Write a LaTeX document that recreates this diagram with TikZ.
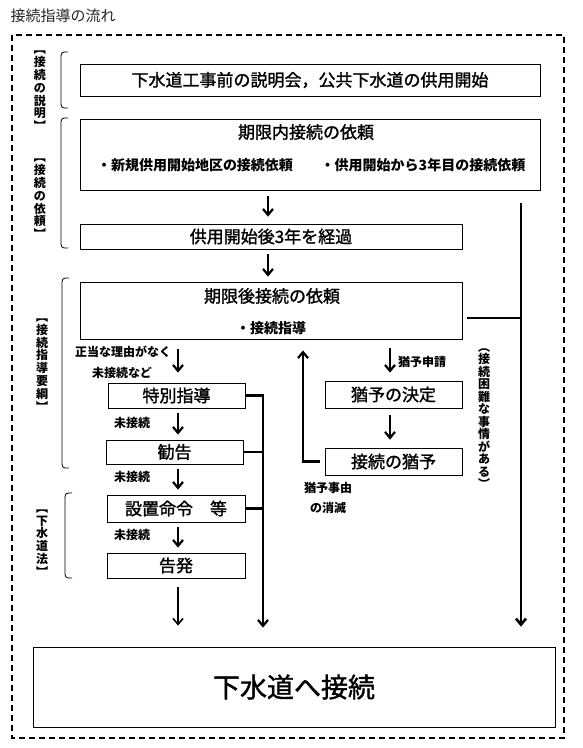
\documentclass[tikz,border=0pt]{standalone}
\usepackage{fontspec}
\setmainfont{Noto Sans CJK JP}
\newfontfamily\jpmed[FakeBold=1.4]{Noto Sans CJK JP}
\usetikzlibrary{arrows.meta}
\tikzset{
  box/.style={draw, line width=0.8pt, inner sep=0pt},
  big/.style={font=\fontsize{17}{17}\selectfont\jpmed},
  arr/.style={-{Straight Barb[length=6pt,width=10pt]}, line width=2.2pt},
  bar/.style={line width=2.6pt},
  lbl/.style={font=\fontsize{12}{12}\selectfont\bfseries, inner sep=0pt},
  vlbl/.style={font=\fontsize{12}{12.8}\selectfont\bfseries, align=center, inner sep=0pt},
  brace/.style={line width=0.8pt},
  frame/.style={dash pattern=on 6pt off 4pt, line width=1.6pt}
}
\begin{document}
\begin{tikzpicture}[x=1pt,y=-1pt]
\useasboundingbox (0,0) rectangle (583,748);
\node[anchor=west, font=\fontsize{15}{15}\selectfont, text=black!85] (title) at (7,15.5) {接続指導の流れ};
\draw[frame] (12,35) rectangle (564,738);
% boxes
\node[box, big, minimum width=460pt, minimum height=32pt] (top) at (310,80) {下水道工事前の説明会，公共下水道の供用開始};
\node[box, minimum width=460pt, minimum height=71pt] (inreq) at (310,154.5) {};
\node[big] (inreqt) at (306,132) {期限内接続の依頼};
\node[font=\fontsize{14}{14}\selectfont\bfseries] (inreqa) at (195,165) {・新規供用開始地区の接続依頼};
\node[font=\fontsize{14}{14}\selectfont\bfseries] (inreqb) at (423,165) {・供用開始から3年目の接続依頼};
\node[box, big, minimum width=382pt, minimum height=25pt] (after3) at (271,236.5) {供用開始後3年を経過};
\node[box, minimum width=382pt, minimum height=57pt] (postreq) at (271,310.5) {};
\node[big] (postreqt) at (272,296) {期限後接続の依頼};
\node[font=\fontsize{14}{14}\selectfont\bfseries] (postreqa) at (271,328) {・接続指導};
\node[box, big, minimum width=137pt, minimum height=25pt] (special) at (176.5,395.5) {特別指導};
\node[box, big, minimum width=137pt, minimum height=24pt] (advice) at (174.5,452) {勧告};
\node[box, big, minimum width=138pt, minimum height=27pt] (order) at (176,508.5) {設置命令\quad 等};
\node[box, big, minimum width=138pt, minimum height=25pt] (accuse) at (176,565.5) {告発};
\node[box, big, minimum width=137pt, minimum height=27pt] (decide) at (393.5,394.5) {猶予の決定};
\node[box, big, minimum width=137pt, minimum height=27pt] (grace) at (393.5,461.5) {接続の猶予};
\node[box, font=\fontsize{27}{27}\selectfont\jpmed, minimum width=522pt, minimum height=80pt] (connect) at (294,687) {下水道へ接続};
% side labels and braces
\node[vlbl] (lexp) at (40,91) {︻\\接\\続\\の\\説\\明\\︼};
\node[vlbl] (lreq) at (40,199) {︻\\接\\続\\の\\依\\頼\\︼};
\node[vlbl] (lguide) at (42,365) {︻\\接\\続\\指\\導\\要\\綱\\︼};
\node[vlbl] (llaw) at (42,543) {︻\\下\\水\\道\\法\\︼};
\foreach \t/\b/\x in {52/108/61, 118/248/61, 278/468/62, 493/578/65}
    \draw[brace] (\x+7,\t) .. controls (\x,\t) .. (\x,\t+8) -- (\x,\b-8) .. controls (\x,\b) .. (\x+7,\b);
\node[vlbl, font=\fontsize{12}{12.5}\selectfont\bfseries] (hard) at (484,418.5) {︵\\接\\続\\困\\難\\な\\事\\情\\が\\あ\\る\\︶};
% small labels
\node[lbl] (why1) at (123,352) {正当な理由がなく};
\node[lbl] (why2) at (122,373) {未接続など};
\foreach \y/\nm in {423/nc1, 477/nc2, 535/nc3}
    \node[lbl] (\nm) at (132,\y) {未接続};
\node[lbl, anchor=west] (apply) at (398,362) {猶予申請};
\node[lbl] (lost1) at (328,488) {猶予事由};
\node[lbl] (lost2) at (328,508) {の消滅};
% connectors
\coordinate (c1) at (268,0);
\coordinate (c2) at (178,0);
\coordinate (c3) at (390,0);
\coordinate (c4) at (263,0);
\coordinate (c5) at (303,0);
\coordinate (rtop) at (521,203);
\coordinate (rmid) at (521,318);
\draw[arr, shorten <=6pt, shorten >=7pt] (inreq.south -| c1) -- (after3.north -| c1);
\draw[arr, shorten <=5pt, shorten >=5pt] (after3.south -| c1) -- (postreq.north -| c1);
\draw[arr, shorten <=10pt, shorten >=10pt] (postreq.south -| c2) -- (special.north -| c2);
\foreach \a/\b in {special/advice, advice/order, order/accuse}
    \draw[arr, shorten <=5pt, shorten >=5pt] (\a.south -| c2) -- (\b.north -| c2);
\draw[arr, line width=1.6pt, shorten <=9pt, shorten >=21pt] (accuse.south -| c2) -- (connect.north -| c2);
\draw[arr, shorten >=19pt] (special.east) -| (connect.north -| c4);
\foreach \n in {advice, order}
    \draw[bar] (\n.east) -- (\n.east -| c4);
\draw[arr, line width=2.6pt, shorten >=20pt] (rtop) -- (connect.north -| rtop);
\draw[bar, shorten <=5pt] (postreq.east |- rmid) -- (rmid);
\draw[arr, shorten <=9pt, shorten >=8pt] (postreq.south -| c3) -- (decide.north -| c3);
\draw[arr, shorten <=7pt, shorten >=8pt] (decide.south -| c3) -- (grace.north -| c3);
\draw[arr, shorten <=5pt, shorten >=11pt] (grace.west) -| (postreq.south -| c5);
\end{tikzpicture}
\end{document}
